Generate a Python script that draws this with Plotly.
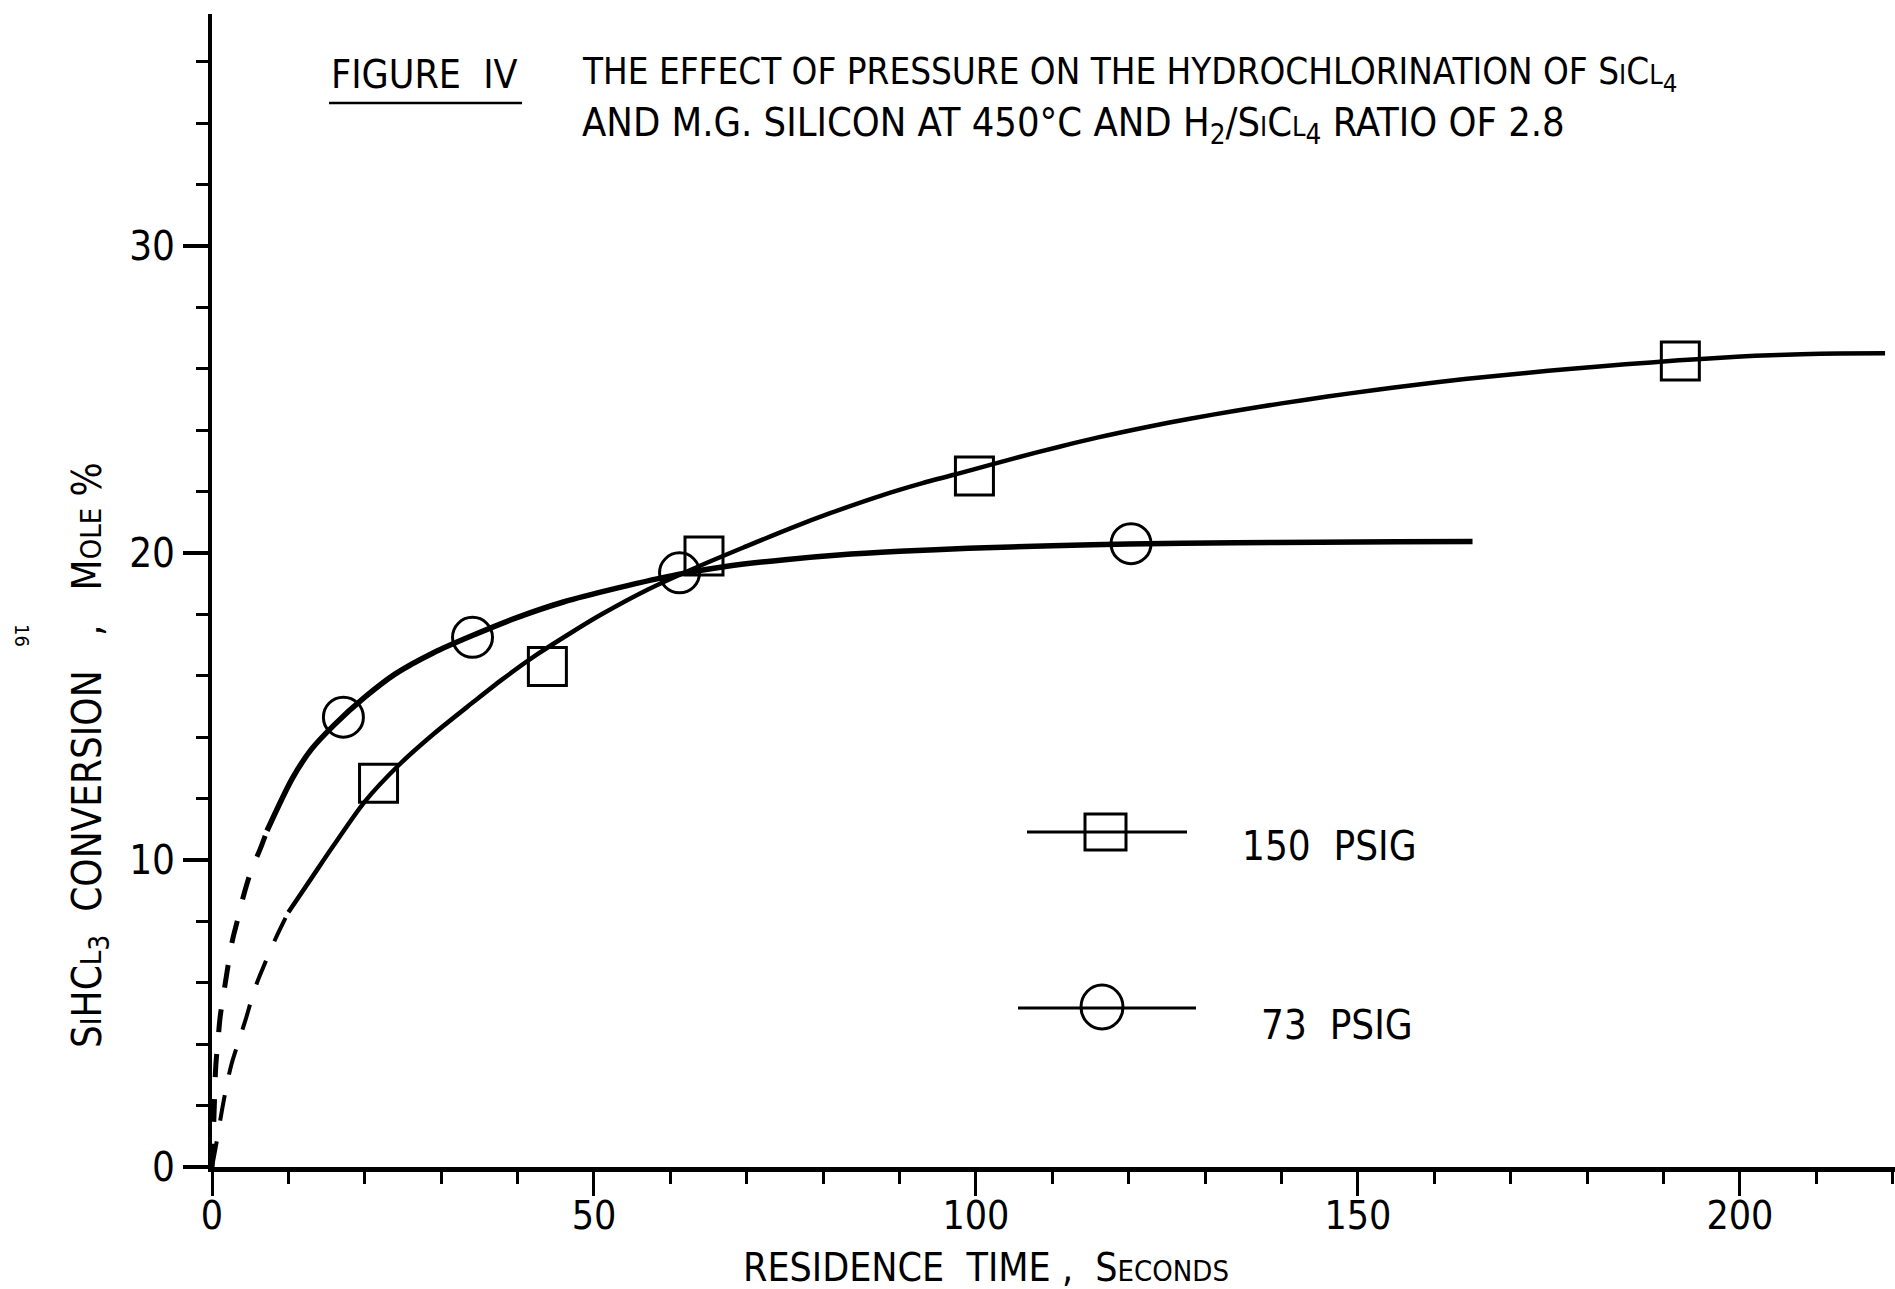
import plotly.graph_objects as go

# ---------------- data ----------------
# 150 PSIG measured points (squares)
sq_x = [21.8, 43.9, 64.4, 99.8, 192.2]
sq_y = [12.5, 16.3, 19.9, 22.5, 26.25]
# 73 PSIG measured points (circles)
ci_x = [17.2, 34.1, 61.2, 120.3]
ci_y = [14.65, 17.25, 19.35, 20.3]

# 150 PSIG fitted curve: dashed extrapolation to origin, then solid
c150_dash_x = [0, 0.6, 1.2, 1.8, 2.5, 3.5, 4.4, 5.6, 6.7, 8.25, 10.0]
c150_dash_y = [0, 0.8, 1.7, 2.5, 3.3, 4.1, 4.8, 5.8, 6.5, 7.4, 8.3]
c150_x = [10.0, 13, 16, 20, 24.5, 29, 34, 38, 42.6, 47, 51, 57, 63.6, 70, 75.7,
          81, 87.4, 93, 99, 105, 110.8, 116, 122.4, 128, 134, 140, 146, 152,
          157.4, 164, 172, 178, 185, 192, 197, 202, 208, 213, 219]
c150_y = [8.3, 9.4, 10.5, 11.9, 13.1, 14.1, 15.1, 15.88, 16.7, 17.4, 18.0, 18.8,
          19.55, 20.22, 20.8, 21.3, 21.85, 22.27, 22.67, 23.08, 23.45, 23.76, 24.1,
          24.37, 24.63, 24.87, 25.09, 25.3, 25.47, 25.66, 25.86, 26.0, 26.14,
          26.27, 26.35, 26.42, 26.47, 26.49, 26.5]

# 73 PSIG fitted curve: dashed extrapolation to origin, then solid
c73_dash_x = [0, 0.25, 0.5, 0.8, 1.05, 1.5, 2.0, 2.65, 3.35, 4.2, 5.2, 6.3, 7.2]
c73_dash_y = [0, 1.6, 3.3, 4.15, 4.85, 5.6, 6.4, 7.35, 8.05, 8.9, 9.7, 10.35, 10.95]
c73_x = [7.2, 10.5, 13, 16, 20, 24, 29, 34, 40, 46, 53, 61, 67, 75, 82, 90, 99,
         110, 120, 134, 145, 155, 165]
c73_y = [10.95, 12.65, 13.6, 14.4, 15.3, 16.06, 16.75, 17.3, 17.9, 18.4, 18.85,
         19.3, 19.55, 19.78, 19.93, 20.05, 20.15, 20.23, 20.29, 20.33, 20.35,
         20.36, 20.37]

x_major = [0, 50, 100, 150, 200]
x_major_labels = ["0", "50", "100", "150", "200"]
y_major = [0, 10, 20, 30]
y_major_labels = ["0", "10", "20", "30"]
x_range = [0, 220.3]
y_range = [0, 37.55]

legend_labels = ["150\u00a0\u00a0PSIG", "73\u00a0\u00a0PSIG"]

# ---------------- figure ----------------
FONT = "Liberation Sans Narrow, DejaVu Sans Condensed, Arial Narrow, sans-serif"
W, H = 1895, 1289
L, R, T, B = 212, 0, 14, 122
PW, PH = W - L - R, H - T - B


def px(xf):
    return (xf - L) / PW


def py(yf):
    return (H - B - yf) / PH


fig = go.Figure()

fig.add_trace(go.Scatter(x=c150_dash_x, y=c150_dash_y, mode="lines",
                         line=dict(color="black", width=4, dash="26px,21px", shape="spline"),
                         hoverinfo="skip"))
fig.add_trace(go.Scatter(x=c150_x, y=c150_y, mode="lines",
                         line=dict(color="black", width=4.5, shape="spline", smoothing=0.8),
                         name="150 PSIG curve"))
fig.add_trace(go.Scatter(x=c73_dash_x, y=c73_dash_y, mode="lines",
                         line=dict(color="black", width=5, dash="23px,22px", shape="spline"),
                         hoverinfo="skip"))
fig.add_trace(go.Scatter(x=c73_x, y=c73_y, mode="lines",
                         line=dict(color="black", width=5.5, shape="spline", smoothing=0.8),
                         name="73 PSIG curve"))
fig.add_trace(go.Scatter(x=sq_x, y=sq_y, mode="markers", name="150 PSIG",
                         marker=dict(symbol="square-open", size=38, color="black",
                                     line=dict(width=3, color="black"))))
fig.add_trace(go.Scatter(x=ci_x, y=ci_y, mode="markers", name="73 PSIG",
                         marker=dict(symbol="circle-open", size=40, color="black",
                                     line=dict(width=3, color="black"))))

fig.update_layout(
    width=W, height=H,
    margin=dict(l=L, r=R, t=T, b=B, pad=0),
    paper_bgcolor="white", plot_bgcolor="white",
    showlegend=False,
    font=dict(family=FONT, color="black", size=40),
)

fig.update_xaxes(
    range=x_range, showgrid=False, zeroline=False,
    showline=True, linewidth=5, linecolor="black",
    tickmode="array", tickvals=x_major, ticktext=x_major_labels,
    ticks="outside", ticklen=24, tickwidth=3, tickcolor="black",
    ticklabelstandoff=-14,
    tickfont=dict(family=FONT, size=39, color="black"),
    minor=dict(dtick=10, tick0=0, ticks="outside", ticklen=12, tickwidth=3,
               tickcolor="black", showgrid=False),
)
fig.update_yaxes(
    range=y_range, showgrid=False, zeroline=False,
    showline=True, linewidth=4, linecolor="black",
    tickmode="array", tickvals=y_major, ticktext=y_major_labels,
    ticks="outside", ticklen=25, tickwidth=4, tickcolor="black",
    tickfont=dict(family=FONT, size=40, color="black"),
    minor=dict(dtick=2, tick0=0, ticks="outside", ticklen=12, tickwidth=3,
               tickcolor="black", showgrid=False),
)

small = 'style="font-size:29px"'
small_t = 'style="font-size:27px"'
annotations = [
    dict(text="FIGURE\u00a0\u00a0IV", x=px(329), y=py(74), xanchor="left", yanchor="middle",
         font=dict(size=39)),
    dict(text="THE EFFECT OF PRESSURE ON THE HYDROCHLORINATION OF "
              f"S<span {small_t}>I</span>C<span {small_t}>L</span><sub>4</sub>",
         x=px(580), y=py(74), xanchor="left", yanchor="middle", font=dict(size=36.5)),
    dict(text="AND M.G. SILICON AT 450°C AND H<sub>2</sub>/"
              f"S<span {small_t}>I</span>C<span {small_t}>L</span><sub>4</sub> RATIO OF 2.8",
         x=px(580), y=py(125), xanchor="left", yanchor="middle", font=dict(size=39.5)),
    dict(text=f"RESIDENCE\u00a0\u00a0TIME\u00a0,\u00a0\u00a0S<span {small}>ECONDS</span>",
         x=px(986), y=py(1267), xanchor="center", yanchor="middle", font=dict(size=39)),
    dict(text=f"S<span {small}>I</span>HC<span {small}>L</span><sub>3</sub>\u00a0\u00a0CONVERSION"
              f"\u00a0\u00a0\u00a0,\u00a0\u00a0\u00a0M<span {small}>OLE</span>\u00a0%",
         x=px(90), y=py(755), xanchor="center", yanchor="middle", textangle=-90),
    dict(text="16", x=px(22), y=py(635), xanchor="center", yanchor="middle",
         textangle=90, font=dict(size=20)),
    dict(text=legend_labels[0], x=px(1240), y=py(846), xanchor="left", yanchor="middle"),
    dict(text=legend_labels[1], x=px(1259), y=py(1025), xanchor="left", yanchor="middle"),
]
for a in annotations:
    a.update(xref="paper", yref="paper", showarrow=False)
    a.setdefault("font", dict(size=40))
    a["font"].setdefault("family", FONT)
    a["font"].setdefault("color", "black")
fig.update_layout(annotations=annotations)

shapes = [
    # underline of FIGURE IV
    dict(type="line", x0=px(329), x1=px(522), y0=py(103), y1=py(103),
         line=dict(color="black", width=2.5)),
    # legend sample 150 PSIG
    dict(type="line", x0=px(1027), x1=px(1187), y0=py(832), y1=py(832),
         line=dict(color="black", width=3)),
    dict(type="rect", x0=px(1085), x1=px(1126), y0=py(814), y1=py(850),
         line=dict(color="black", width=3), fillcolor="rgba(0,0,0,0)"),
    # legend sample 73 PSIG
    dict(type="line", x0=px(1018), x1=px(1196), y0=py(1008), y1=py(1008),
         line=dict(color="black", width=3)),
    dict(type="circle", x0=px(1081), x1=px(1123), y0=py(985), y1=py(1029),
         line=dict(color="black", width=3), fillcolor="rgba(0,0,0,0)"),
]
for s in shapes:
    s.update(xref="paper", yref="paper")
fig.update_layout(shapes=shapes)

fig.write_html("out.html",
               config={"displayModeBar": False},
               post_script="document.body.style.margin='0';document.body.style.overflow='hidden';")
